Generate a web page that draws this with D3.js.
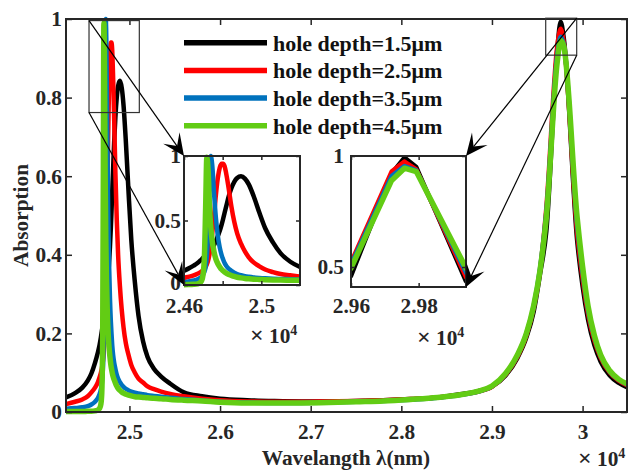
<!DOCTYPE html>
<html>
<head>
<meta charset="utf-8">
<script src="https://cdn.jsdelivr.net/npm/d3@7"></script>
<style>
  body { margin: 0; background: #fff; }
  svg text { font-family: "Liberation Serif", "Times New Roman", serif; font-weight: bold; fill: #262626; }
</style>
</head>
<body>
<div id="chart"></div>
<script>
// wavelength grid (nm) and absorption, one array per hole depth
var wavelength = [
  24300, 24400, 24480, 24540, 24580, 24620, 24650, 24670, 24685, 24695,
  24705, 24712, 24718, 24725, 24732, 24739, 24746, 24755, 24765, 24775,
  24785, 24795, 24802, 24810, 24820, 24832, 24845, 24860, 24875, 24895,
  24915, 24935, 24960, 24990, 25020, 25060, 25100, 25150, 25200, 25270,
  25350, 25450, 25600, 25800, 26000, 26300, 26600, 26900, 27200, 27500,
  27800, 28100, 28400, 28650, 28850, 29000, 29150, 29280, 29380, 29460,
  29530, 29600, 29720, 29758, 29793, 29940, 30000, 30060, 30130, 30200,
  30300, 30400, 30490
];
var depth15 = [
  0.037, 0.048, 0.062, 0.080, 0.098, 0.125, 0.150, 0.170, 0.190, 0.205,
  0.220, 0.230, 0.240, 0.250, 0.262, 0.275, 0.290, 0.310, 0.340, 0.380,
  0.420, 0.470, 0.510, 0.560, 0.620, 0.690, 0.750, 0.800, 0.830, 0.843,
  0.825, 0.780, 0.690, 0.560, 0.440, 0.330, 0.245, 0.180, 0.140, 0.110,
  0.090, 0.072, 0.050, 0.040, 0.034, 0.030, 0.028, 0.027, 0.027, 0.028,
  0.030, 0.033, 0.037, 0.045, 0.053, 0.065, 0.093, 0.137, 0.190, 0.255,
  0.350, 0.460, 0.920, 0.993, 0.950, 0.436, 0.320, 0.235, 0.170, 0.128,
  0.093, 0.074, 0.063
];
var depth25 = [
  0.020, 0.026, 0.032, 0.040, 0.050, 0.062, 0.075, 0.088, 0.100, 0.110,
  0.125, 0.140, 0.160, 0.190, 0.240, 0.310, 0.400, 0.530, 0.700, 0.830,
  0.910, 0.940, 0.940, 0.920, 0.850, 0.740, 0.610, 0.490, 0.400, 0.320,
  0.260, 0.215, 0.175, 0.145, 0.120, 0.100, 0.085, 0.075, 0.065, 0.058,
  0.052, 0.046, 0.040, 0.034, 0.030, 0.027, 0.026, 0.026, 0.027, 0.028,
  0.030, 0.033, 0.037, 0.044, 0.052, 0.064, 0.095, 0.140, 0.195, 0.265,
  0.360, 0.520, 0.930, 0.975, 0.940, 0.455, 0.340, 0.250, 0.182, 0.138,
  0.100, 0.080, 0.068
];
var depth35 = [
  0.008, 0.010, 0.012, 0.015, 0.019, 0.026, 0.035, 0.045, 0.058, 0.072,
  0.100, 0.140, 0.220, 0.420, 0.780, 1.000, 0.930, 0.720, 0.520, 0.380,
  0.290, 0.230, 0.200, 0.170, 0.145, 0.125, 0.110, 0.095, 0.085, 0.076,
  0.069, 0.064, 0.059, 0.055, 0.052, 0.049, 0.047, 0.045, 0.043, 0.041,
  0.039, 0.036, 0.033, 0.029, 0.026, 0.024, 0.023, 0.023, 0.024, 0.026,
  0.028, 0.031, 0.036, 0.043, 0.052, 0.065, 0.097, 0.143, 0.200, 0.270,
  0.365, 0.510, 0.910, 0.955, 0.935, 0.475, 0.355, 0.260, 0.190, 0.142,
  0.103, 0.082, 0.070
];
var depth45 = [
  0.001, 0.001, 0.001, 0.002, 0.002, 0.003, 0.005, 0.009, 0.020, 0.050,
  0.200, 0.600, 0.990, 0.880, 0.600, 0.440, 0.340, 0.260, 0.200, 0.165,
  0.140, 0.120, 0.110, 0.100, 0.090, 0.082, 0.074, 0.066, 0.060, 0.055,
  0.051, 0.048, 0.045, 0.043, 0.041, 0.039, 0.038, 0.037, 0.036, 0.035,
  0.034, 0.032, 0.030, 0.028, 0.025, 0.023, 0.023, 0.023, 0.024, 0.026,
  0.028, 0.032, 0.037, 0.044, 0.053, 0.066, 0.098, 0.145, 0.200, 0.270,
  0.360, 0.495, 0.890, 0.945, 0.930, 0.495, 0.370, 0.270, 0.195, 0.145,
  0.105, 0.083, 0.072
];
var labels = ["hole depth=1.5μm", "hole depth=2.5μm", "hole depth=3.5μm", "hole depth=4.5μm"];

var mainXTicks = [25000, 26000, 27000, 28000, 29000, 30000];
var mainXLabels = ["2.5", "2.6", "2.7", "2.8", "2.9", "3"];
var mainYTicks = [0, 0.2, 0.4, 0.6, 0.8, 1];
var mainYLabels = ["0", "0.2", "0.4", "0.6", "0.8", "1"];
var inset1XTicks = [24600, 24800, 25000];
var inset1XLabels = ["2.46", "", "2.5"];
var inset1YTicks = [0, 0.5, 1];
var inset1YLabels = ["0", "0.5", "1"];
var inset2XTicks = [29600, 29800];
var inset2XLabels = ["2.96", "2.98"];
var inset2YTicks = [0.5, 1];
var inset2YLabels = ["0.5", "1"];
// zoomed regions in data units: [w0, w1, a0, a1]
var zoomRegion1 = [24554, 25109, 0.762, 0.996];
var zoomRegion2 = [29593, 29935, 0.908, 1.002];

var colors = ["#000000", "#ff0000", "#0072bd", "#62cc14"];
var lineWidths = [4.5, 4.5, 4.5, 5.5];
var fontSize = 21.3;

var width = 628, height = 471;

var series = [depth15, depth25, depth35, depth45].map(function(vals, i) {
  return {
    label: labels[i],
    color: colors[i],
    width: lineWidths[i],
    values: vals.map(function(v, j) { return {w: wavelength[j], a: v}; })
  };
});

var svg = d3.select("#chart").append("svg")
    .attr("width", width)
    .attr("height", height);

var x = d3.scaleLinear().domain([24300, 30490]).range([66, 627]),
    y = d3.scaleLinear().domain([0, 1]).range([412, 19]);

function lineFor(xs, ys, curve) {
  return d3.line()
    .curve(curve)
    .x(function(d) { return xs(d.w); })
    .y(function(d) { return ys(d.a); });
}

function drawLines(g, xs, ys, curve) {
  g.selectAll("path.data")
    .data(series).enter()
    .append("path")
      .attr("class", "data")
      .attr("d", function(d) { return lineFor(xs, ys, curve)(d.values); })
      .style("fill", "none")
      .style("stroke", function(d) { return d.color; })
      .style("stroke-width", function(d) { return d.width; })
      .style("stroke-linejoin", "round");
}

function drawFrame(g, xs, ys, o) {
  var x0 = xs.range()[0], x1 = xs.range()[1],
      y0 = ys.range()[0], y1 = ys.range()[1];

  var axes = [
    g.append("g").attr("transform", "translate(0," + y0 + ")")
      .call(d3.axisBottom(xs).tickValues(o.xTicks)
        .tickFormat(function(d, i) { return o.xLabels[i]; })
        .tickSizeInner(-o.tick).tickSizeOuter(0).tickPadding(o.xPad)),
    g.append("g").attr("transform", "translate(0," + y1 + ")")
      .call(d3.axisTop(xs).tickValues(o.xTicks).tickFormat("")
        .tickSizeInner(-o.tick).tickSizeOuter(0)),
    g.append("g").attr("transform", "translate(" + x0 + ",0)")
      .call(d3.axisLeft(ys).tickValues(o.yTicks)
        .tickFormat(function(d, i) { return o.yLabels[i]; })
        .tickSizeInner(-o.tick).tickSizeOuter(0).tickPadding(o.yPad)),
    g.append("g").attr("transform", "translate(" + x1 + ",0)")
      .call(d3.axisRight(ys).tickValues(o.yTicks).tickFormat("")
        .tickSizeInner(-o.tick).tickSizeOuter(0))
  ];
  axes.forEach(function(a) {
    a.attr("font-size", null).attr("font-family", null).attr("color", "#262626");
    a.select(".domain").remove();
    a.selectAll(".tick line").attr("stroke-width", 1.5);
    a.selectAll("text").style("font-size", fontSize + "px");
  });

  g.append("rect")
    .attr("x", x0).attr("y", y1)
    .attr("width", x1 - x0).attr("height", y0 - y1)
    .attr("fill", "none")
    .attr("stroke", "#262626")
    .attr("stroke-width", 2);
}

function exponent(g, px, py) {
  var t = g.append("text")
    .attr("x", px).attr("y", py)
    .style("font-size", fontSize + "px");
  t.append("tspan").style("font-size", "24px").text("×");
  t.append("tspan").text(" 10");
  t.append("tspan").attr("dy", -8).style("font-size", "14px").text("4");
}

function arrow(g, p0, p1) {
  var dx = p1[0] - p0[0], dy = p1[1] - p0[1],
      len = Math.sqrt(dx * dx + dy * dy),
      ux = dx / len, uy = dy / len,
      L = 22, W = 10;
  var notch = [p1[0] - ux * L * 0.55, p1[1] - uy * L * 0.55];
  g.append("line")
    .attr("x1", p0[0]).attr("y1", p0[1])
    .attr("x2", notch[0]).attr("y2", notch[1])
    .attr("stroke", "#000").attr("stroke-width", 1.2);
  g.append("path")
    .attr("d", "M" + p1 +
      "L" + [p1[0] - ux * L - uy * W, p1[1] - uy * L + ux * W] +
      "L" + notch +
      "L" + [p1[0] - ux * L + uy * W, p1[1] - uy * L - ux * W] + "Z")
    .attr("fill", "#000");
}

// main plot
var main = svg.append("g").attr("class", "main");
drawLines(main.append("g").attr("class", "lines"), x, y, d3.curveMonotoneX);
drawFrame(main, x, y, {
  xTicks: mainXTicks, xLabels: mainXLabels,
  yTicks: mainYTicks, yLabels: mainYLabels,
  tick: 6, xPad: 12, yPad: 4
});

main.append("text")
  .attr("x", 346).attr("y", 465)
  .style("text-anchor", "middle")
  .style("font-size", fontSize + "px")
  .text("Wavelangth λ(nm)");
main.append("text")
  .attr("transform", "translate(28,215.5) rotate(-90)")
  .style("text-anchor", "middle")
  .style("font-size", fontSize + "px")
  .text("Absorption");
exponent(main, 578, 466);

// zoom rectangles on the main curves
[zoomRegion1, zoomRegion2].forEach(function(r) {
  main.append("rect")
    .attr("x", x(r[0])).attr("y", y(r[3]))
    .attr("width", x(r[1]) - x(r[0]))
    .attr("height", y(r[2]) - y(r[3]))
    .attr("fill", "none")
    .attr("stroke", "#333")
    .attr("stroke-width", 1.2);
});

// legend
var legend = svg.append("g").attr("class", "legend");
series.forEach(function(s, i) {
  var ly = 42.7 + i * 27.7;
  legend.append("line")
    .attr("x1", 184).attr("x2", 267)
    .attr("y1", ly).attr("y2", ly)
    .attr("stroke", s.color)
    .attr("stroke-width", 5.5);
  legend.append("text")
    .attr("x", 273).attr("y", ly + 8)
    .style("font-size", "22px")
    .style("fill", "#111")
    .text(s.label);
});

// inset 1: first resonance
var ix1 = d3.scaleLinear().domain([24600, 25200]).range([184, 300]),
    iy1 = d3.scaleLinear().domain([0, 1]).range([285, 156]);
var inset1 = svg.append("g").attr("class", "inset1");
inset1.append("rect").attr("x", 184).attr("y", 156).attr("width", 116).attr("height", 129).attr("fill", "#fff");
svg.append("defs").append("clipPath").attr("id", "clip1")
  .append("rect").attr("x", 184).attr("y", 148).attr("width", 116).attr("height", 142);
drawLines(inset1.append("g").attr("clip-path", "url(#clip1)"), ix1, iy1, d3.curveMonotoneX);
drawFrame(inset1, ix1, iy1, {
  xTicks: inset1XTicks, xLabels: inset1XLabels,
  yTicks: inset1YTicks, yLabels: inset1YLabels,
  tick: 4, xPad: 13, yPad: 3
});
inset1.selectAll("text").filter(function() { return this.textContent === "0"; }).attr("dy", "0.2em");
exponent(inset1, 250, 343);

// inset 2: second resonance
var ix2 = d3.scaleLinear().domain([29600, 29940]).range([351, 466]),
    iy2 = d3.scaleLinear().domain([0.41, 1]).range([287, 156]);
var inset2 = svg.append("g").attr("class", "inset2");
inset2.append("rect").attr("x", 351).attr("y", 156).attr("width", 115).attr("height", 131).attr("fill", "#fff");
svg.select("defs").append("clipPath").attr("id", "clip2")
  .append("rect").attr("x", 351).attr("y", 148).attr("width", 115).attr("height", 144);
drawLines(inset2.append("g").attr("clip-path", "url(#clip2)"), ix2, iy2, d3.curveLinear);
drawFrame(inset2, ix2, iy2, {
  xTicks: inset2XTicks, xLabels: inset2XLabels,
  yTicks: inset2YTicks, yLabels: inset2YLabels,
  tick: 4, xPad: 11, yPad: 7
});
exponent(inset2, 417, 345);

// arrows from zoom rectangles to insets
var arrows = svg.append("g").attr("class", "arrows");
arrow(arrows, [x(zoomRegion1[0]), y(zoomRegion1[3])], [ix1(24600), iy1(1)]);
arrow(arrows, [x(zoomRegion1[0]), y(zoomRegion1[2])], [ix1(24600), iy1(0)]);
arrow(arrows, [x(zoomRegion2[1]), y(zoomRegion2[3])], [ix2(29940), iy2(1)]);
arrow(arrows, [x(zoomRegion2[1]), y(zoomRegion2[2])], [ix2(29940), iy2(0.41)]);
</script>
</body>
</html>
